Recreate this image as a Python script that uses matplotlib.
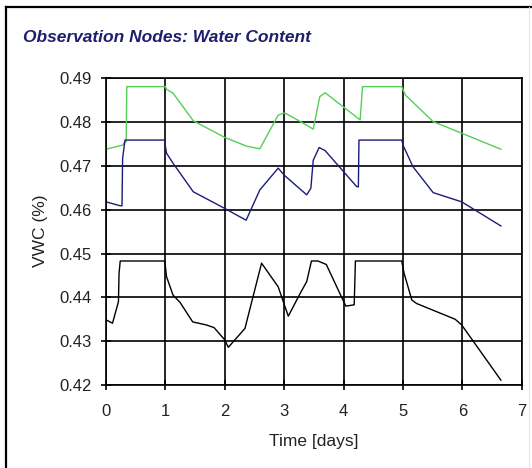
import matplotlib
matplotlib.use("Agg")
import matplotlib.pyplot as plt
from matplotlib.lines import Line2D

plt.rcParams['font.family'] = ['Liberation Sans', 'DejaVu Sans']

# observation node 1 (green)
green_t = [0.0, 0.29, 0.30, 0.34, 0.35, 1.00, 1.02, 1.13, 1.47, 2.00, 2.37, 2.59,
           2.90, 3.01, 3.25, 3.49, 3.60, 3.69, 4.28, 4.32, 4.98, 5.04, 5.51, 6.02, 6.65]
green_v = [0.4738, 0.4748, 0.4752, 0.4755, 0.4881, 0.4881, 0.4875, 0.4866, 0.4803, 0.4765, 0.4745, 0.4739,
           0.4816, 0.4821, 0.4803, 0.4784, 0.4858, 0.4867, 0.4805, 0.4881, 0.4881, 0.4862, 0.4801, 0.4773, 0.4738]

# observation node 2 (blue)
blue_t = [0.0, 0.24, 0.27, 0.28, 0.30, 0.32, 0.99, 1.00, 1.02, 1.13, 1.47, 2.00, 2.36, 2.59,
          2.90, 3.00, 3.38, 3.45, 3.49, 3.59, 3.69, 4.22, 4.25, 4.26, 4.98, 5.01, 5.17, 5.51, 5.99, 6.65]
blue_v = [0.4618, 0.4609, 0.4609, 0.4717, 0.4738, 0.4759, 0.4759, 0.4745, 0.4729, 0.4706, 0.4641, 0.4603, 0.4576, 0.4645,
          0.4695, 0.4679, 0.4634, 0.4649, 0.4713, 0.4742, 0.4735, 0.4653, 0.4652, 0.4759, 0.4759, 0.4745, 0.4698, 0.4639, 0.4618, 0.4563]

# observation node 3 (black)
black_t = [0.01, 0.11, 0.21, 0.22, 0.24, 0.99, 1.02, 1.13, 1.25, 1.46, 1.69, 1.82, 2.00, 2.06, 2.34, 2.62,
           2.90, 3.07, 3.27, 3.38, 3.46, 3.57, 3.71, 3.99, 4.04, 4.18, 4.20, 4.98, 5.02, 5.15, 5.23, 5.88, 5.99, 6.65]
black_v = [0.4348, 0.4341, 0.4390, 0.4455, 0.4483, 0.4483, 0.4447, 0.4405, 0.4388, 0.4344, 0.4337, 0.4331, 0.4303, 0.4286, 0.4329, 0.4478,
           0.4424, 0.4357, 0.4409, 0.4436, 0.4483, 0.4483, 0.4475, 0.4394, 0.4380, 0.4383, 0.4483, 0.4483, 0.4455, 0.4394, 0.4386, 0.4350, 0.4337, 0.4211]

x_ticks = [0, 1, 2, 3, 4, 5, 6, 7]
y_ticks = [0.42, 0.43, 0.44, 0.45, 0.46, 0.47, 0.48, 0.49]

fig = plt.figure(figsize=(5.32, 4.68), dpi=100)
ax = fig.add_axes([0.1992, 0.1774, 0.7814, 0.6553])

ax.plot(green_t, green_v, color='#55cf55', lw=1.0)
ax.plot(blue_t, blue_v, color='#1c1c7a', lw=1.0)
ax.plot(black_t, black_v, color='black', lw=1.0)

ax.set_xlim(0, 7)
ax.set_ylim(0.42, 0.49)
ax.set_xticks(x_ticks)
ax.set_yticks(y_ticks)
ax.set_yticklabels(['%.2f' % v for v in y_ticks])
ax.grid(True, color='black', lw=1.2)
for s in ax.spines.values():
    s.set_linewidth(1.2)
ax.tick_params(direction='inout', length=7, width=1.2, labelsize=12, labelcolor='#222222')
ax.tick_params(axis='x', pad=10)
ax.tick_params(axis='y', pad=7)

fig.text(0.590, 0.046, 'Time [days]', fontsize=12.5, ha='center', va='baseline', color='#222222')
fig.text(0.076, 0.508, 'VWC (%)', fontsize=12.5, rotation=90, ha='center', va='center', color='#222222')

fig.text(0.043, 0.910, 'Observation Nodes: Water Content', fontsize=12.5,
         fontweight='bold', fontstyle='italic', color='#1e1e6e', va='baseline')

# screenshot frame (top and left edges)
fig.add_artist(Line2D([0.011, 0.011], [0.0, 0.985], color='black', lw=1.6, transform=fig.transFigure))
fig.add_artist(Line2D([0.011, 1.0], [0.985, 0.985], color='black', lw=1.6, transform=fig.transFigure))
fig.add_artist(Line2D([0.995, 0.995], [0.0, 0.985], color='#e6e6e6', lw=0.8, transform=fig.transFigure))

fig.savefig('out.png', dpi=100)
